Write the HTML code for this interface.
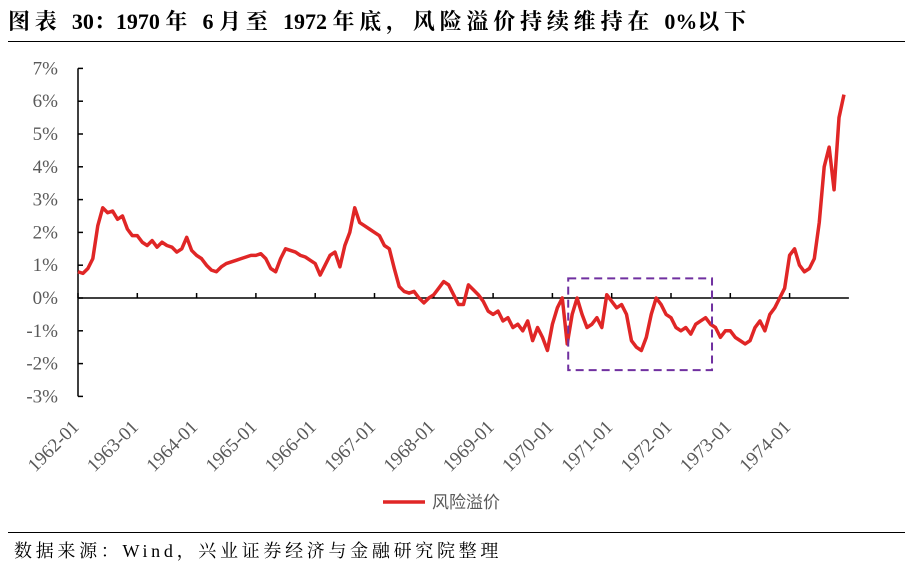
<!DOCTYPE html>
<html><head><meta charset="utf-8"><style>
body{margin:0;background:#fff;width:913px;height:568px;overflow:hidden;font-family:"Liberation Serif","Noto Serif CJK SC",serif}
#title{position:absolute;left:8px;top:5px;font-size:22px;font-weight:bold;color:#000;white-space:nowrap}
#title .c{letter-spacing:4.8px}
#tline{position:absolute;left:8px;top:41px;width:897px;height:1px;background:#000}
#bline{position:absolute;left:8px;top:532px;width:897px;height:1px;background:#000}
#src{position:absolute;left:14px;top:537px;font-size:18px;letter-spacing:3.7px;color:#000;white-space:nowrap}
</style></head><body>
<div id="title"><span class="c">图表 </span>30：1970 <span class="c">年 </span>6 <span class="c">月至 </span>1972 <span class="c">年底，风险溢价持续维持在 </span>0%<span class="c">以下</span></div>
<div id="tline"></div>
<svg id="chart" width="913" height="568" style="position:absolute;left:0;top:0"></svg>
<div id="bline"></div>
<div id="src">数据来源：Wind，兴业证券经济与金融研究院整理</div>
<script>
const yTicks=[7,6,5,4,3,2,1,0,-1,-2,-3];
const xTickLabels=["1962-01","1963-01","1964-01","1965-01","1966-01","1967-01","1968-01","1969-01","1970-01","1971-01","1972-01","1973-01","1974-01"];
const seriesName="风险溢价";
const premium=[
0.8,0.75,0.9,1.2,2.2,2.75,2.6,2.65,2.4,2.5,2.1,1.9,
1.9,1.7,1.6,1.75,1.55,1.7,1.6,1.55,1.4,1.5,1.85,1.45,
1.3,1.2,1.0,0.85,0.8,0.95,1.05,1.1,1.15,1.2,1.25,1.3,
1.3,1.35,1.2,0.9,0.8,1.2,1.5,1.45,1.4,1.3,1.25,1.15,
1.05,0.7,1.0,1.3,1.4,0.95,1.6,2.0,2.75,2.3,2.2,2.1,
2.0,1.9,1.6,1.5,0.9,0.35,0.2,0.15,0.2,0.0,-0.15,0.0,
0.1,0.3,0.5,0.4,0.1,-0.2,-0.2,0.4,0.25,0.1,-0.1,-0.4,
-0.5,-0.4,-0.7,-0.6,-0.9,-0.8,-1.0,-0.7,-1.3,-0.9,-1.2,-1.6,
-0.8,-0.3,0.0,-1.4,-0.5,0.0,-0.5,-0.9,-0.8,-0.6,-0.9,0.1,
-0.1,-0.3,-0.2,-0.5,-1.3,-1.5,-1.6,-1.2,-0.5,0.0,-0.2,-0.5,
-0.6,-0.9,-1.0,-0.9,-1.1,-0.8,-0.7,-0.6,-0.8,-0.9,-1.2,-1.0,
-1.0,-1.2,-1.3,-1.4,-1.3,-0.9,-0.7,-1.0,-0.5,-0.3,0.0,0.3,
1.3,1.5,1.0,0.8,0.9,1.2,2.3,4.0,4.6,3.3,5.5,6.2];
const boxRange=[99.2,128.3]; // month indices of highlighted period
const boxY=[0.6,-2.2];
const NS="http://www.w3.org/2000/svg";
const svg=document.getElementById('chart');
const X0=78,PX_MONTH=59.3/12;
const x=m=>X0+m*PX_MONTH;
const y=v=>298-v*32.8;
function mk(t,a){const e=document.createElementNS(NS,t);for(const k in a)e.setAttribute(k,a[k]);svg.appendChild(e);return e;}
let e;
e=mk('line',{x1:X0,y1:y(7),x2:X0,y2:y(-3),stroke:'#000','stroke-width':1.5});


yTicks.forEach(v=>{
 let t=mk('line',{x1:X0,y1:y(v),x2:X0+5,y2:y(v),stroke:'#000','stroke-width':1.5});
 
 
 let l=mk('text',{x:X0-20,y:y(v)+6,'text-anchor':'end','font-size':19,fill:'#595959','font-family':'Liberation Serif'});
 l.textContent=v+'%';
 
 
});
e=mk('line',{x1:X0,y1:y(0),x2:x(156),y2:y(0),stroke:'#000','stroke-width':1.5});


xTickLabels.forEach((s,i)=>{
 const xx=x(i*12);
 let t=mk('line',{x1:xx,y1:y(0),x2:xx,y2:y(0)-5,stroke:'#000','stroke-width':1.5});
 
 
 let l=mk('text',{x:xx+2,y:428,'text-anchor':'end','font-size':19,fill:'#595959','font-family':'Liberation Serif',transform:`rotate(-45 ${xx+2} 428)`});
 l.textContent=s;
 
 
});
e=mk('polyline',{points:premium.map((v,i)=>x(i)+','+y(v)).join(' '),fill:'none',stroke:'#e02626','stroke-width':3.5,'stroke-linejoin':'round'});


e=mk('rect',{x:x(boxRange[0]),y:y(boxY[0]),width:x(boxRange[1])-x(boxRange[0]),height:y(boxY[1])-y(boxY[0]),fill:'none',stroke:'#7030a0','stroke-width':2,'stroke-dasharray':'8,5'});


e=mk('line',{x1:383,y1:502,x2:425,y2:502,stroke:'#e02626','stroke-width':3.5});


e=mk('text',{x:432,y:508,'font-size':17,fill:'#595959','font-family':'Noto Sans CJK SC'});
e.textContent=seriesName;


</script>
</body></html>
